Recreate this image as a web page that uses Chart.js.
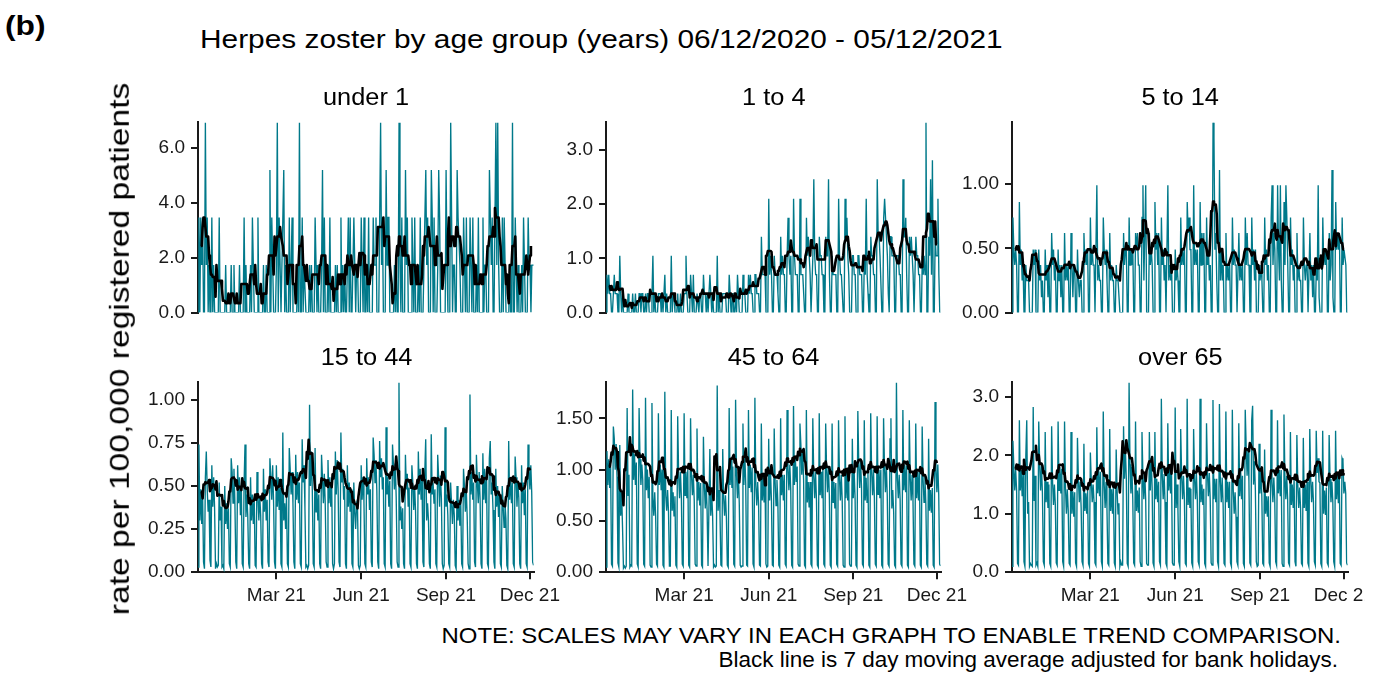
<!DOCTYPE html>
<html>
<head>
<meta charset="utf-8">
<script src="https://cdn.jsdelivr.net/npm/chart.js@4.4.1/dist/chart.umd.min.js"></script>
<style>
  html, body { margin: 0; padding: 0; background: #fff; }
  #page { position: relative; width: 1383px; height: 675px; overflow: hidden;
          font-family: "Liberation Sans", Arial, sans-serif; color: #000; }
  .txt { position: absolute; white-space: nowrap; line-height: 1; transform-origin: 50% 50%; }
  #plots { position: absolute; left: 0; top: 0; width: 1365px; height: 675px; overflow: hidden; }
  #plots canvas { position: absolute; }
</style>
</head>
<body>
<div id="page">
  <div id="plots"></div>
  <div class="txt" id="tag">(b)</div>
  <div class="txt" id="title">Herpes zoster by age group (years) 06/12/2020 - 05/12/2021</div>
  <div class="txt" id="ytitle">rate per 100,000 registered patients</div>
  <div class="txt" id="note1">NOTE: SCALES MAY VARY IN EACH GRAPH TO ENABLE TREND COMPARISON.</div>
  <div class="txt" id="note2">Black line is 7 day moving average adjusted for bank holidays.</div>
</div>
<script>
// ---------------------------------------------------------------------------
// Data: daily consultation rates per 100,000 registered patients,
// 06/12/2020 (a Sunday) to 05/12/2021. Each row is one week, Sun..Sat.
// ---------------------------------------------------------------------------
const startDate = '2020-12-06';
const groups = ['under 1', '1 to 4', '5 to 14', '15 to 44', '45 to 64', 'over 65'];
const bankHolidays = ['2020-12-25', '2020-12-28', '2021-01-01', '2021-04-02',
                      '2021-04-05', '2021-05-03', '2021-05-31', '2021-08-30'];
const xTickDates = ['2021-03-01', '2021-06-01', '2021-09-01', '2021-12-01'];
const xTickLabels = ['Mar 21', 'Jun 21', 'Sep 21', 'Dec 21'];

const rateUnder1 = [
  [0,3.46,0,3.46,1.73,3.46,0], [0,6.92,1.73,3.46,0,1.73,0], [0,3.46,0,1.73,0,0,0],
  [0,0,3.46,0,0,0,0], [0,0,1.73,0,0,0,0], [0,1.73,0,0,1.73,0,0],
  [0,0,0,1.73,0,0,0], [0,3.46,0,1.73,0,0,0], [0,1.73,0,3.46,1.73,0,0],
  [0,0,3.46,0,0,0,0], [0,1.73,0,0,1.73,0,0], [0,5.19,0,3.46,1.73,0,0],
  [0,1.73,6.92,0,3.46,1.73,0], [0,3.46,5.19,0,1.73,0,0], [0,3.46,0,1.73,3.46,0,0],
  [0,0,0,1.73,0,6.92,0], [0,3.46,0,1.73,1.73,0,0], [0,0,1.73,0,1.73,0,0],
  [0,3.46,1.73,0,1.73,0,0], [0,1.73,5.19,0,3.46,0,0], [0,1.73,0,3.46,0,0,0],
  [0,0,1.73,0,1.73,0,0], [0,3.46,0,1.73,0,1.73,0], [0,1.73,3.46,0,3.46,0,0],
  [0,3.46,1.73,0,1.73,1.73,0], [0,0,3.46,1.73,0,3.46,0], [0,1.73,0,3.46,0,0,0],
  [0,3.46,1.73,1.73,3.46,0,0], [0,3.46,6.92,1.73,3.46,0,0], [0,5.19,1.73,3.46,3.46,0,0],
  [0,0,0,1.73,0,1.73,0], [0,6.92,1.73,0,3.46,0,0], [0,5.19,1.73,3.46,0,0,0],
  [0,3.46,1.73,0,3.46,0,0], [0,1.73,0,3.46,0,0,0], [0,3.46,5.19,1.73,3.46,0,0],
  [0,5.19,3.46,0,3.46,0,0], [0,1.73,5.19,3.46,0,0,0], [0,0,0,5.19,1.73,0,0],
  [0,6.92,3.46,0,1.73,1.73,0], [0,5.19,3.46,3.46,1.73,0,0], [0,3.46,1.73,0,3.46,0,0],
  [0,3.46,3.46,0,3.46,0,0], [0,1.73,0,3.46,0,0,0], [0,3.46,0,1.73,1.73,0,0],
  [0,5.19,3.46,1.73,3.46,0,0], [0,6.92,1.73,6.92,1.73,0,0], [0,3.46,0,3.46,1.73,0,0],
  [0,0,1.73,0,0,6.92,0], [0,3.46,1.73,0,1.73,0,0], [0,1.73,0,3.46,1.73,0,0],
  [0,3.46,1.73,1.73,0,1.73,1.73], [1.73]
].flat();

const rate1to4 = [
  [0,.70,.35,.70,.35,.35,0], [0,.35,.70,.35,.35,.35,0], [0,1.05,.35,0,.35,0,0],
  [0,0,0,.35,0,0,0], [0,.35,0,0,.35,0,0], [0,.35,.35,0,.35,.35,0],
  [0,.35,0,.35,.35,0,0], [0,.35,1.05,0,.35,0,0], [0,.35,.35,.35,0,.35,0],
  [0,.70,0,.35,0,0,0], [0,1.05,0,.35,.35,0,0], [0,.35,0,0,.35,0,0],
  [0,.35,.35,1.05,.35,0,0], [0,.70,.35,0,.70,0,0], [0,.35,.35,0,.35,.35,0],
  [0,.70,.35,.35,0,.35,0], [0,.70,.35,0,.35,0,0], [0,0,1.05,0,.35,0,0],
  [0,.35,.35,.35,.35,0,0], [0,.70,.35,0,.35,.35,0], [0,.35,0,.70,.35,0,0],
  [0,0,.70,.35,.35,0,0], [0,.70,.35,.70,.35,.35,0], [0,.70,.70,.35,.35,.35,0],
  [0,1.40,.70,.70,.70,.70,0], [0,0,2.10,.70,1.05,.70,0], [0,1.05,.70,.70,.70,.35,0],
  [0,1.40,.70,1.05,.70,.70,0], [0,1.05,1.75,1.05,.70,1.05,0], [0,2.10,1.05,.70,.70,.70,0],
  [0,2.10,.70,.70,.70,.35,0], [0,1.75,1.05,1.40,1.05,.70,0], [0,1.05,2.46,1.05,.70,.70,0],
  [0,1.40,1.05,1.05,.70,.70,0], [0,1.40,1.05,1.05,2.46,.70,0], [0,1.05,.70,.70,.70,.70,0],
  [0,2.10,1.05,.70,.70,.35,0], [0,2.10,1.40,1.75,1.05,.70,0], [0,0,1.05,1.05,.70,.70,0],
  [0,1.05,1.05,.70,.70,.70,0], [0,1.05,.70,2.10,.70,.35,0], [0,1.40,1.05,1.05,.70,.70,0],
  [0,2.46,1.40,1.40,1.05,1.05,0], [0,1.75,2.10,1.75,1.40,1.05,.35], [0,1.40,1.40,1.05,1.05,1.05,0],
  [0,1.05,1.05,1.05,.70,.70,0], [0,2.46,1.40,1.40,1.75,.70,0], [0,1.40,1.05,1.40,1.05,.70,0],
  [0,1.40,1.05,1.05,.70,.70,0], [0,1.05,.70,1.05,.70,3.51,0], [0,1.40,1.05,2.46,.70,2.81,0],
  [0,1.40,1.05,1.05,2.10,.70,0], [0]
].flat();

const rate5to14 = [
  [0,.74,.49,.37,.49,.37,0], [0,.86,.37,.49,.25,.37,0], [0,.37,.25,.25,.25,0,0],
  [0,0,.49,.37,.49,0,0], [0,.49,.25,.37,.12,.25,0], [0,.49,.25,.37,.12,.37,0],
  [0,.62,.37,.49,.25,.37,0], [0,.49,.25,.37,.12,.37,0], [0,.62,.25,.37,.25,.37,0],
  [0,.62,.37,.12,.37,.37,0], [0,.49,.25,.12,.25,.25,0], [0,.62,.37,.49,.37,.49,0],
  [0,.74,.37,.49,.37,.37,0], [0,.99,.25,.37,.25,.25,0], [0,.74,.49,.37,.49,.25,0],
  [0,.62,.25,.37,.25,.25,0], [0,.37,.25,.25,.25,0,0], [0,0,.62,.37,.49,.49,0],
  [0,.74,.37,.49,.37,.49,0], [0,.62,.49,.62,.37,.37,0], [0,.74,.99,.25,.62,.99,0],
  [0,0,.62,.37,.49,.37,0], [0,.86,.49,.62,.37,.62,0], [0,.74,.37,.49,.25,.37,0],
  [0,.99,.25,.37,.25,.37,0], [0,0,.49,.25,.37,.25,0], [0,.74,.37,.49,.37,.49,0],
  [0,.86,.62,.74,.49,.49,0], [0,.99,.37,.49,.37,.49,0], [0,.86,.37,.62,.37,.62,0],
  [0,.74,.37,.49,.25,.37,0], [0,1.48,1.36,.49,.62,.25,0], [0,1.11,.25,.49,.25,.37,0],
  [0,.62,.25,.37,.25,.37,0], [0,.74,.37,.49,.37,.37,0], [0,.62,.25,.37,.25,.37,0],
  [0,.74,.37,.62,.37,.37,0], [0,.74,.37,.49,.25,.49,0], [0,0,.37,.25,.37,.25,0],
  [0,.74,.37,.49,.25,.37,0], [0,.74,.99,.37,.62,.49,0], [0,.99,.49,.25,.99,.25,0],
  [0,.86,.37,.99,.74,.37,0], [0,.74,.37,.49,.25,.37,0], [0,.62,.25,.37,.25,.25,0],
  [0,.74,.37,.25,.37,.37,0], [0,.62,.25,.37,.12,.37,0], [0,.37,.25,.99,.12,0,0],
  [0,.74,.37,.49,.37,.49,0], [0,.62,.25,.37,1.11,.12,0], [0,.86,.49,.62,.49,.62,0],
  [0,.74,.37,.49,.49,.37,0], [0]
].flat();

const rate15to44 = [
  [.03,.74,.30,.48,.28,.45,.06], [.02,.55,.70,.48,.35,.42,.07], [.03,.62,.38,.55,.37,.02,.05],
  [.03,.04,.52,.30,.38,.03,.04], [.02,.50,.28,.40,.25,.37,.05], [.03,.66,.58,.40,.60,.41,.06],
  [.02,.62,.40,.55,.33,.50,.05], [.03,.52,.74,.32,.45,.32,.05], [.02,.55,.30,.45,.28,.42,.04],
  [.03,.58,.45,.30,.44,.33,.05], [.02,.60,.35,.48,.30,.42,.06], [.03,.66,.55,.42,.62,.40,.06],
  [.02,.62,.38,.55,.36,.49,.05], [.03,.81,.30,.40,.25,.44,.05], [.03,.72,.60,.45,.58,.40,.06],
  [.02,.68,.42,.58,.40,.52,.05], [.03,.77,.52,.62,.37,.03,.04], [.02,.04,.97,.50,.70,.47,.05],
  [.03,.72,.35,.48,.30,.45,.05], [.02,.68,.55,.40,.57,.40,.06], [.03,.65,.40,.55,.38,.52,.05],
  [.02,.05,.70,.45,.65,.48,.06], [.03,.81,.52,.60,.42,.50,.05], [.02,.62,.38,.52,.35,.48,.05],
  [.03,.52,.35,.25,.40,.38,.04], [.02,.04,.62,.42,.55,.41,.05], [.03,.66,.45,.55,.36,.48,.06],
  [.03,.78,.68,.52,.65,.47,.06], [.02,.76,.55,.66,.48,.55,.05], [.03,.84,.45,.55,.38,.53,.05],
  [.02,.74,.62,.48,.63,.43,.06], [.03,1.10,.30,.38,.25,.37,.05], [.02,.68,.48,.57,.38,.49,.05],
  [.03,.62,.52,.36,.50,.35,.05], [.02,.70,.45,.60,.42,.53,.06], [.03,.58,.77,.30,.40,.30,.05],
  [.02,.80,.45,.52,.40,.48,.05], [.03,.68,.55,.38,.56,.43,.05], [.02,.04,.84,.38,.45,.33,.05],
  [.03,.52,.40,.28,.42,.33,.04], [.02,.50,.30,.42,.27,.41,.05], [.03,.60,.50,.35,.48,.32,.05],
  [.02,1.03,.45,.58,.42,.52,.06], [.03,.68,.52,.40,.58,.42,.05], [.02,.69,.42,.60,.40,.54,.05],
  [.03,.66,.76,.45,.52,.36,.06], [.02,.60,.38,.50,.32,.45,.05], [.03,.50,.38,.26,.40,.31,.04],
  [.02,.76,.42,.55,.40,.52,.05], [.03,.67,.55,.38,.52,.43,.05], [.02,.62,.40,.52,.33,.48,.05],
  [.03,.74,.60,.48,.62,.46,.06], [.04]
].flat();

const rate45to64 = [
  [.05,1.18,.85,1.10,.82,1.05,.08], [.06,1.42,1.30,1.00,1.25,.93,.09], [.05,1.24,.55,.78,.43,.04,.06],
  [.04,.06,1.60,.75,.95,.05,.07], [.06,1.78,.90,1.15,.85,1.07,.08], [.05,1.60,1.10,.85,1.05,.90,.08],
  [.06,1.70,.80,1.00,.72,.93,.07], [.05,1.65,.72,.55,.78,.55,.08], [.06,1.55,.85,1.05,.80,1.00,.07],
  [.05,1.76,.75,.60,.80,.59,.06], [.06,1.58,.60,.78,.55,.74,.07], [.05,1.52,.95,.72,.98,.73,.08],
  [.06,1.55,.75,.98,.72,1.00,.07], [.05,1.50,.95,.75,.95,.70,.08], [.06,1.40,.70,.88,.65,.87,.07],
  [.05,1.32,.85,.62,.86,.60,.06], [.06,1.20,.55,.78,.55,.05,.07], [.05,.06,1.82,.60,.80,.58,.07],
  [.06,1.20,.72,.55,.75,.53,.07], [.05,1.60,.85,1.10,.82,1.03,.08], [.06,1.68,.95,.72,.98,.67,.07],
  [.05,.06,1.45,.85,1.15,.87,.07], [.06,1.58,.82,1.05,.78,1.02,.08], [.05,1.70,.85,.65,.88,.67,.07],
  [.06,1.45,.70,.92,.68,.90,.08], [.05,.06,1.30,.70,.98,.70,.07], [.06,1.40,.88,.65,.90,.67,.07],
  [.05,1.50,.75,.95,.70,.95,.08], [.06,1.58,1.02,.80,1.05,.80,.07], [.05,1.62,.85,1.12,.88,1.03,.08],
  [.06,1.45,1.25,.95,1.20,.90,.07], [.05,1.58,.68,.88,.63,.88,.08], [.06,1.50,.95,.72,.98,.70,.07],
  [.05,1.55,.75,.98,.72,1.00,.08], [.06,1.45,1.00,.78,1.02,.75,.07], [.05,1.45,.68,.88,.62,.87,.08],
  [.06,1.48,.92,.70,.95,.70,.07], [.05,1.52,.72,.98,.70,.98,.08], [.06,.06,1.30,.72,.98,.72,.07],
  [.05,1.57,1.05,.82,1.08,.83,.08], [.06,1.48,.70,.92,.68,.97,.07], [.05,1.55,.98,.75,1.00,.72,.08],
  [.06,1.52,.76,1.00,.72,1.00,.07], [.05,1.50,1.02,.78,1.05,.75,.08], [.06,1.30,1.50,.62,.80,.58,.07],
  [.05,1.85,.92,.72,.95,.71,.08], [.06,1.58,.80,1.05,.78,1.04,.07], [.05,1.48,.92,.70,.95,.70,.08],
  [.06,1.45,.72,.98,.70,1.00,.07], [.05,1.42,.90,.68,.93,.67,.08], [.06,1.30,.60,.80,.58,.82,.07],
  [.05,1.66,1.00,.78,1.05,.76,.08], [.06]
].flat();

const rateOver65 = [
  [.10,2.25,1.80,1.40,1.75,1.40,.15], [.12,2.60,1.40,1.75,1.30,1.70,.18], [.10,2.00,2.60,1.00,1.20,.10,.15],
  [.12,.10,2.83,1.22,1.65,.12,.16], [.10,2.58,1.85,1.40,1.82,1.35,.18], [.12,2.40,1.20,1.55,1.10,1.50,.15],
  [.10,2.50,1.55,1.15,1.50,1.15,.16], [.12,2.58,1.40,1.80,1.35,1.77,.18], [.10,2.58,1.45,1.00,1.42,1.05,.15],
  [.12,2.40,1.00,1.38,.95,1.37,.16], [.10,2.30,1.60,1.20,1.55,1.10,.18], [.12,2.20,1.05,1.35,1.00,1.40,.15],
  [.10,2.05,1.55,1.20,1.50,1.20,.16], [.12,2.48,1.35,1.75,1.30,1.72,.18], [.10,2.75,1.50,1.10,1.55,1.10,.15],
  [.12,2.45,1.05,1.42,1.00,1.48,.16], [.10,2.10,1.40,1.00,1.18,.10,.18], [.12,.12,2.50,1.60,2.10,1.60,.15],
  [.10,3.25,1.85,1.35,1.80,1.25,.16], [.12,2.58,1.05,1.40,1.02,1.45,.18], [.10,2.40,1.65,1.25,1.70,1.25,.15],
  [.12,.12,2.40,1.40,1.95,1.45,.16], [.10,2.40,1.25,1.60,1.20,1.55,.18], [.12,2.97,1.65,1.25,1.68,1.20,.15],
  [.10,2.55,1.40,1.80,1.35,1.80,.16], [.12,.12,2.82,1.10,1.50,1.06,.18], [.10,2.45,1.65,1.25,1.65,1.25,.15],
  [.12,2.97,1.15,1.45,1.10,1.43,.16], [.10,2.45,1.60,1.25,1.70,1.25,.18], [.12,2.97,1.20,1.50,1.15,1.43,.15],
  [.10,2.55,1.70,1.30,1.70,1.25,.16], [.12,2.95,1.25,1.60,1.20,1.60,.18], [.10,2.88,1.55,1.20,1.62,1.15,.15],
  [.12,2.75,1.20,1.55,1.10,1.55,.16], [.10,2.78,1.40,1.00,1.37,.95,.18], [.12,2.55,1.30,1.75,1.25,1.65,.15],
  [.10,2.78,2.15,1.65,2.12,1.55,.16], [.12,2.60,2.85,1.50,1.90,1.40,.18], [.10,.12,2.20,1.35,1.75,1.30,.15],
  [.12,2.10,1.00,1.30,.95,1.30,.16], [.10,2.78,1.55,1.20,1.62,1.25,.18], [.12,2.60,1.35,1.75,1.30,1.75,.15],
  [.10,2.70,1.65,1.25,1.65,1.25,.16], [.12,2.40,1.15,1.50,1.10,1.60,.18], [.10,2.35,1.50,1.10,1.45,1.10,.15],
  [.12,2.30,1.10,1.50,1.05,1.55,.16], [.10,2.45,1.60,1.20,1.55,1.20,.18], [.12,2.42,1.70,1.95,1.55,1.53,.15],
  [.10,2.42,1.00,1.40,.98,1.45,.16], [.12,2.35,1.60,1.20,1.55,1.20,.18], [.10,2.42,1.25,1.70,1.18,1.70,.15],
  [.12,1.95,1.90,1.35,1.55,1.35,.16], [.12]
].flat();

const yTicksUnder1 = ['0.0', '2.0', '4.0', '6.0'];
const yTicks1to4 = ['0.0', '1.0', '2.0', '3.0'];
const yTicks5to14 = ['0.00', '0.50', '1.00'];
const yTicks15to44 = ['0.00', '0.25', '0.50', '0.75', '1.00'];
const yTicks45to64 = ['0.00', '0.50', '1.00', '1.50'];
const yTicksOver65 = ['0.0', '1.0', '2.0', '3.0'];

// ---------------------------------------------------------------------------
const DAY = 86400000;
const t0 = Date.parse(startDate);
const dayIndex = (iso) => Math.round((Date.parse(iso) - t0) / DAY);
const holidaySet = new Set(bankHolidays.map(dayIndex));
const isWorkingDay = (d) => {
  const wd = new Date(t0 + d * DAY).getUTCDay();
  return wd >= 1 && wd <= 5 && !holidaySet.has(d);
};

// centred 7-day window, averaged over the working days it contains
function movingAverage(values) {
  return values.map((_, d) => {
    if (d < 3 || d > values.length - 4) return null;
    let sum = 0, working = 0;
    for (let k = d - 3; k <= d + 3; k++) {
      sum += values[k];
      if (isWorkingDay(k)) working++;
    }
    return working ? sum / working : null;
  });
}

const panels = [
  { name: groups[0], rates: rateUnder1, ticks: yTicksUnder1 },
  { name: groups[1], rates: rate1to4,   ticks: yTicks1to4 },
  { name: groups[2], rates: rate5to14,  ticks: yTicks5to14 },
  { name: groups[3], rates: rate15to44, ticks: yTicks15to44 },
  { name: groups[4], rates: rate45to64, ticks: yTicks45to64 },
  { name: groups[5], rates: rateOver65, ticks: yTicksOver65 },
];

// plot-area boxes of the 3 x 2 facet grid
const COLS = [{ x: 198, w: 336 }, { x: 606, w: 335 }, { x: 1012, w: 336 }];
const ROWS = [{ y: 122, h: 190, titleY: 97.5 }, { y: 382, h: 190, titleY: 357.5 }];

const TEAL = '#00798a';
const AXIS = '#1a1a1a';
const FONT = 'Liberation Sans';
const tickFont = { family: FONT, size: 19 };
const xTickDays = xTickDates.map(dayIndex);

const plots = document.getElementById('plots');
const page = document.getElementById('page');

function fitToBox(chart, box) {
  for (let i = 0; i < 4; i++) {
    const a = chart.chartArea;
    const w = Math.round(chart.width + box.w - (a.right - a.left));
    const h = Math.round(chart.height + box.h - (a.bottom - a.top));
    if (w === chart.width && h === chart.height) break;
    chart.resize(w, h);
  }
  const a = chart.chartArea;
  chart.canvas.style.left = Math.round(box.x - a.left) + 'px';
  chart.canvas.style.top = Math.round(box.y - a.top) + 'px';
}

function makePanel(p, i) {
  const col = COLS[i % 3], row = ROWS[Math.floor(i / 3)];
  const bottomRow = i >= 3;
  const box = { x: col.x, y: row.y, w: col.w, h: row.h };
  const canvas = document.createElement('canvas');
  canvas.width = box.w + 140;
  canvas.height = box.h + 80;
  plots.appendChild(canvas);

  const yVals = p.ticks.map(Number);
  const daily = p.rates.map((y, x) => ({ x, y }));
  const avg = movingAverage(p.rates).map((y, x) => ({ x, y }));

  const chart = new Chart(canvas, {
    type: 'line',
    data: {
      datasets: [
        { data: avg, borderColor: '#000', borderWidth: 2.6, pointRadius: 0,
          borderJoinStyle: 'round', spanGaps: false, order: 0 },
        { data: daily, borderColor: TEAL, borderWidth: 1.35, pointRadius: 0, order: 1 },
      ],
    },
    options: {
      responsive: false,
      maintainAspectRatio: false,
      animation: false,
      devicePixelRatio: 1,
      events: [],
      layout: { padding: 0 },
      plugins: { legend: { display: false }, tooltip: { enabled: false } },
      scales: {
        x: {
          type: 'linear', min: 0, max: p.rates.length - 1,
          display: bottomRow,
          afterBuildTicks: (s) => { s.ticks = xTickDays.map((v) => ({ value: v })); },
          ticks: { callback: (v, idx) => xTickLabels[idx], font: tickFont, color: AXIS,
                   padding: 5, maxRotation: 0, autoSkip: false },
          grid: { drawOnChartArea: false, tickLength: 7, color: AXIS, lineWidth: 2 },
          border: { color: AXIS, width: 2 },
        },
        y: {
          min: 0, max: Math.max(...p.rates),
          afterBuildTicks: (s) => { s.ticks = yVals.map((v) => ({ value: v })); },
          afterFit: (s) => { s.width = 66; },
          ticks: { callback: (v, idx) => p.ticks[idx], font: tickFont, color: AXIS,
                   padding: 6, autoSkip: false },
          grid: { drawOnChartArea: false, tickLength: 7, color: AXIS, lineWidth: 2 },
          border: { color: AXIS, width: 2 },
        },
      },
    },
  });
  fitToBox(chart, box);

  const t = document.createElement('div');
  t.className = 'txt facet';
  t.textContent = p.name;
  page.appendChild(t);
  return { el: t, cx: col.x + col.w / 2, cy: row.titleY };
}

// text placement: centre a label on (cx, cy), optionally widening it to a given length
function placeText(el, o) {
  el.style.fontFamily = FONT;
  el.style.fontSize = o.size + 'px';
  el.style.fontWeight = o.bold ? 'bold' : 'normal';
  const w = el.offsetWidth, h = el.offsetHeight;
  const sx = o.width ? o.width / w : (o.sx || 1);
  el.style.left = (o.cx - w / 2) + 'px';
  el.style.top = (o.cy - h / 2) + 'px';
  el.style.transform = `rotate(${o.rot || 0}deg) scaleX(${sx})`;
  return sx;
}

const facetTitles = panels.map(makePanel);
const facetScale = placeText(facetTitles[0].el, { cx: facetTitles[0].cx, cy: facetTitles[0].cy, size: 23, width: 86 });
facetTitles.slice(1).forEach((f) => placeText(f.el, { cx: f.cx, cy: f.cy, size: 23, sx: facetScale }));

placeText(document.getElementById('tag'), { cx: 25, cy: 26, size: 27, bold: true, width: 40 });
placeText(document.getElementById('title'), { cx: 601.5, cy: 39, size: 25, width: 803 });
placeText(document.getElementById('ytitle'), { cx: 120, cy: 348.5, size: 28, width: 533, rot: -90 });
placeText(document.getElementById('note1'), { cx: 890.5, cy: 636, size: 22, width: 899 });
placeText(document.getElementById('note2'), { cx: 1028, cy: 660, size: 22, width: 620 });
</script>
</body>
</html>
